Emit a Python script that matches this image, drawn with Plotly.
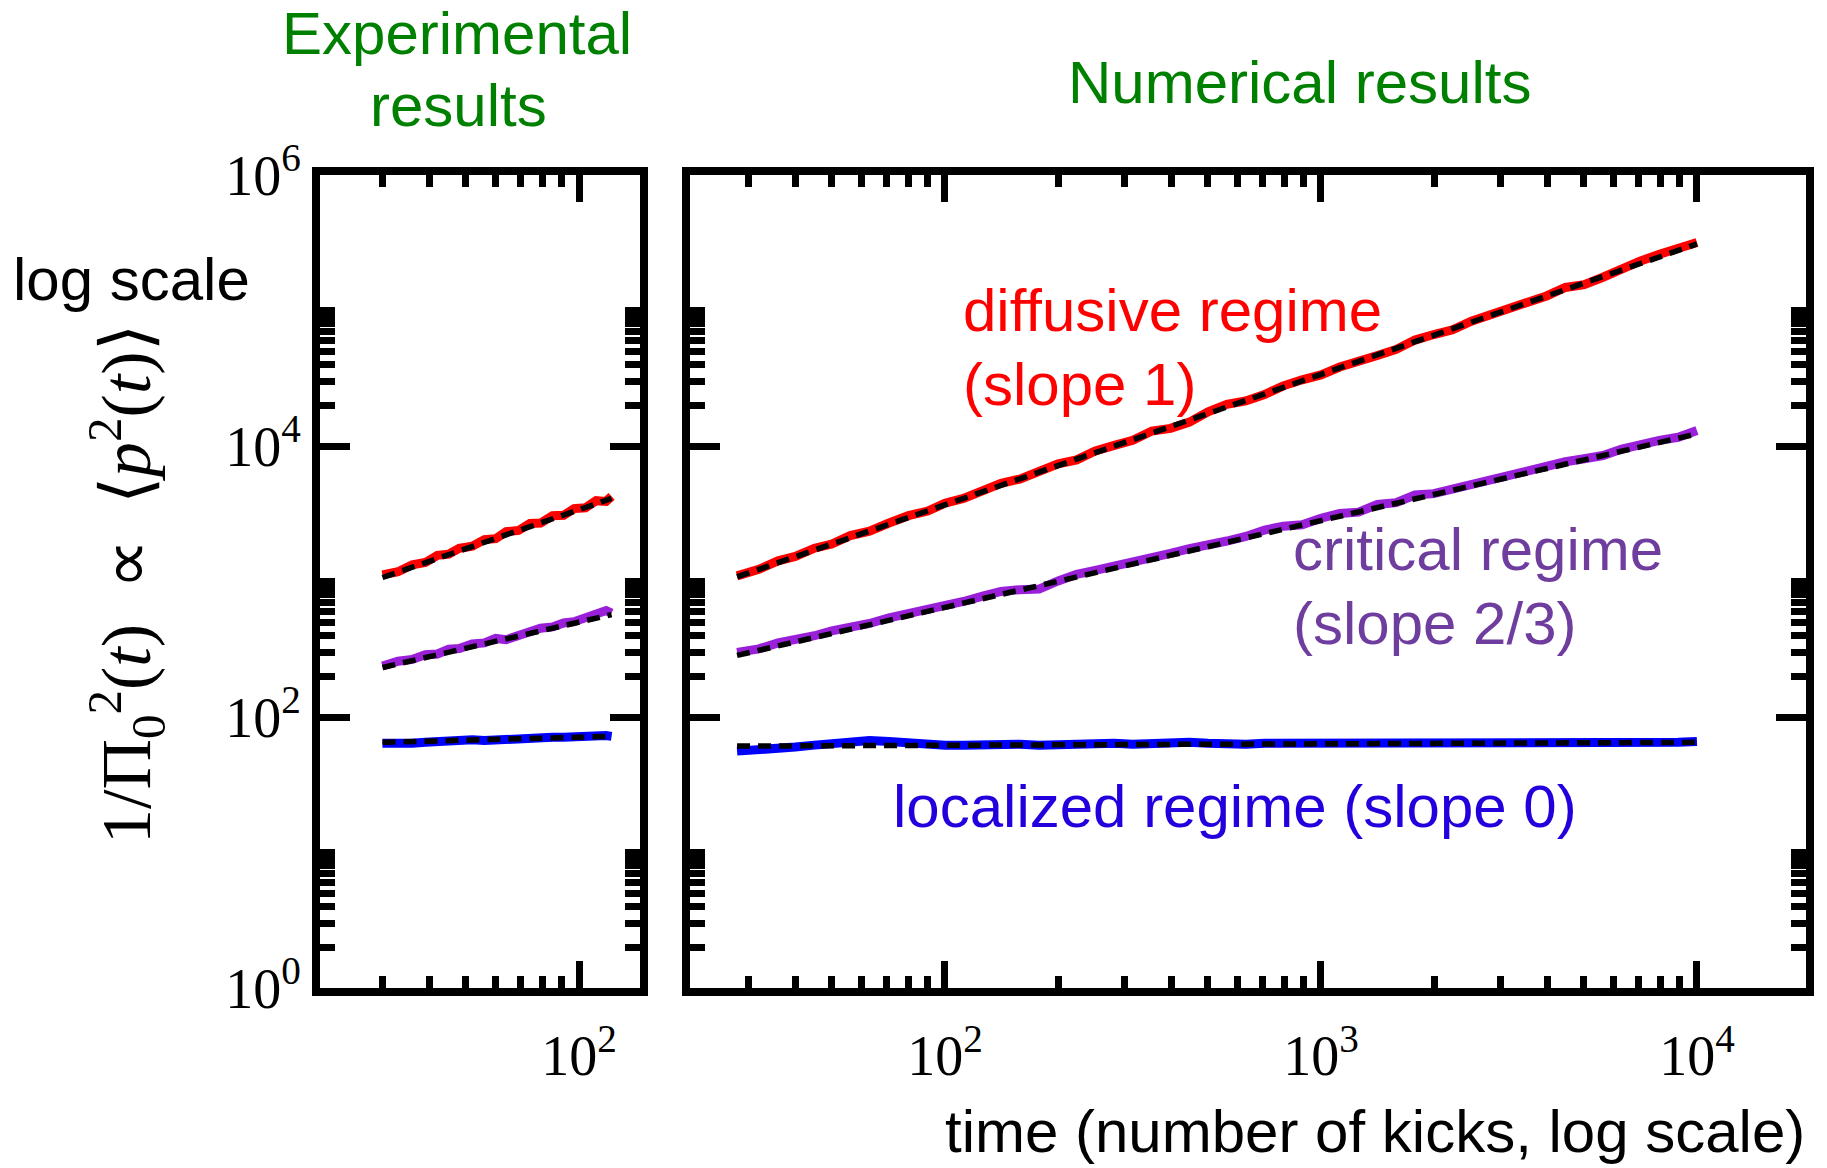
import plotly.graph_objects as go

# ---------------- data ----------------
# Experimental (left panel)
t_exp = [30, 33, 36, 39, 42, 45, 48, 52, 56, 60, 64, 69, 74, 79, 85, 91, 97, 104, 111, 118, 122]
exp_diffusive = [1120, 1180, 1330, 1380, 1560, 1590, 1760, 1820, 2040, 2070, 2330, 2380, 2680, 2700,
                 3060, 3080, 3450, 3500, 3950, 3900, 4250]
exp_critical = [238, 258, 266, 288, 292, 316, 320, 346, 352, 380, 372, 398, 432, 452, 462, 494, 505,
                540, 560, 610, 585]
exp_localized = [64, 63, 64, 65, 66, 66, 67, 68, 67, 68, 69, 70, 69, 70, 71, 71, 72, 72, 73, 73, 72]

# Numerical (right panel)
t_num = [28, 32, 36, 40, 45, 50, 56, 63, 71, 80, 90, 100, 112, 126, 141, 158, 178, 200, 224, 251,
         282, 316, 355, 398, 447, 501, 562, 631, 708, 794, 891, 1000, 1122, 1259, 1413, 1585, 1778,
         1995, 2239, 2512, 2818, 3162, 3548, 3981, 4467, 5012, 5623, 6310, 7079, 7943, 8913, 10000]
num_diffusive = [1100, 1230, 1420, 1530, 1760, 1890, 2180, 2350, 2700, 3060, 3310, 3780, 4100, 4700,
                 5300, 5700, 6500, 7400, 7900, 9200, 10100, 11000, 12900, 13500, 15000, 17900, 20300,
                 21500, 24000, 27800, 30800, 33500, 38300, 42900, 46500, 51600, 60500, 66500, 72000,
                 83500, 93000, 102000, 118000, 128000, 148000, 155000, 176000, 206000, 232000,
                 260000, 284000, 318000]
num_critical = [300, 318, 352, 368, 398, 432, 458, 490, 540, 575, 618, 672, 712, 780, 845, 870, 880,
                1010, 1130, 1210, 1290, 1400, 1510, 1610, 1750, 1900, 1990, 2150, 2400, 2560, 2620,
                2930, 3180, 3250, 3700, 3820, 4350, 4450, 4800, 5350, 5750, 6000, 6700, 7000, 7650,
                8050, 8500, 9500, 10300, 11000, 11600, 13000]
num_localized = [56, 57, 58, 60, 62, 64, 66, 67, 66, 64, 63, 62, 62, 63, 64, 63, 62, 63, 64, 65, 64,
                 63, 64, 66, 65, 64, 63, 63, 64, 64, 65, 64, 63, 63, 64, 64, 65, 65, 65, 65, 64, 63,
                 64, 64, 65, 64, 63, 64, 65, 65, 65, 66]

# Power-law fits (end points)
fit_exp_t = [30, 122]
fit_exp_diffusive = [1070, 4100]
fit_exp_critical = [232, 570]
fit_exp_localized = [65, 72]
fit_num_t = [28, 10000]
fit_num_diffusive = [1080, 310000]
fit_num_critical = [285, 12300]
fit_num_localized = [61, 65]

# ticks
y_major = [1, 100, 10000, 1000000]
y_major_text = ["10<sup>0</sup>", "10<sup>2</sup>", "10<sup>4</sup>", "10<sup>6</sup>"]
y_minor = [2, 3, 4, 5, 6, 7, 8, 9, 10, 200, 300, 400, 500, 600, 700, 800, 900, 1000,
           20000, 30000, 40000, 50000, 60000, 70000, 80000, 90000, 100000]
x_exp_major = [100]
x_exp_major_text = ["10<sup>2</sup>"]
x_exp_minor = [30, 40, 50, 60, 70, 80, 90]
x_num_major = [100, 1000, 10000]
x_num_major_text = ["10<sup>2</sup>", "10<sup>3</sup>", "10<sup>4</sup>"]
x_num_minor = [30, 40, 50, 60, 70, 80, 90, 200, 300, 400, 500, 600, 700, 800, 900,
               2000, 3000, 4000, 5000, 6000, 7000, 8000, 9000]

RED = "#ff0000"
PURPLE = "#9a1fd8"
BLUE = "#0000ff"
GREEN = "#008000"

W, H = 1827, 1168

fig = go.Figure()

def add_panel(xref, yref, t, d, c, l, ft, fd, fc, fl):
    for vals, col in ((d, RED), (c, PURPLE), (l, BLUE)):
        fig.add_trace(go.Scatter(x=t, y=vals, mode="lines", xaxis=xref, yaxis=yref,
                                 line=dict(color=col, width=9), hoverinfo="skip"))
    for vals in (fd, fc, fl):
        fig.add_trace(go.Scatter(x=ft, y=vals, mode="lines", xaxis=xref, yaxis=yref,
                                 line=dict(color="black", width=5.5, dash="13px,8px"),
                                 hoverinfo="skip"))

add_panel("x", "y", t_exp, exp_diffusive, exp_critical, exp_localized,
          fit_exp_t, fit_exp_diffusive, fit_exp_critical, fit_exp_localized)
add_panel("x2", "y2", t_num, num_diffusive, num_critical, num_localized,
          fit_num_t, fit_num_diffusive, fit_num_critical, fit_num_localized)

tickfont = dict(family="Liberation Serif", size=56, color="black")
common = dict(type="log", showline=True, linecolor="black", linewidth=8, mirror="ticks",
              ticks="inside", tickcolor="black", tickwidth=7, showgrid=False, zeroline=False,
              tickfont=tickfont, automargin=False)

def px_x(p):
    return p / W

def px_y(p):
    return 1 - p / H

fig.update_layout(
    width=W, height=H, margin=dict(l=0, r=0, t=0, b=0, pad=0, autoexpand=False),
    paper_bgcolor="white", plot_bgcolor="white", showlegend=False,
    xaxis=dict(common, domain=[px_x(320), px_x(640)], range=[1.311, 2.162], anchor="y",
               tickmode="array", tickvals=x_exp_major, ticktext=x_exp_major_text, ticklen=27,
               ticklabelstandoff=12,
               minor=dict(tickmode="array", tickvals=x_exp_minor, ticklen=12, tickwidth=7,
                          tickcolor="black", ticks="inside")),
    xaxis2=dict(common, domain=[px_x(690), px_x(1806)], range=[1.322, 4.290], anchor="y2",
                tickmode="array", tickvals=x_num_major, ticktext=x_num_major_text, ticklen=27,
                ticklabelstandoff=12,
                minor=dict(tickmode="array", tickvals=x_num_minor, ticklen=12, tickwidth=7,
                           tickcolor="black", ticks="inside")),
    yaxis=dict(common, domain=[px_y(988), px_y(175)], range=[0, 6], anchor="x",
               tickmode="array", tickvals=y_major, ticktext=y_major_text, ticklen=30,
               minor=dict(tickmode="array", tickvals=y_minor, ticklen=15, tickwidth=7,
                          tickcolor="black", ticks="inside")),
    yaxis2=dict(common, domain=[px_y(988), px_y(175)], range=[0, 6], anchor="x2",
                tickmode="array", tickvals=y_major, ticktext=y_major_text, ticklen=30,
                showticklabels=False,
                minor=dict(tickmode="array", tickvals=y_minor, ticklen=15, tickwidth=7,
                           tickcolor="black", ticks="inside")),
)

SANS = "Liberation Sans"
FS = 60

def label(text, x, y, color, anchor="left", size=FS, font=SANS, angle=0):
    fig.add_annotation(text=text, x=px_x(x), y=px_y(y), xref="paper", yref="paper",
                       xanchor=anchor, yanchor="middle", showarrow=False, textangle=angle,
                       font=dict(family=font, size=size, color=color))

label("Experimental", 457, 34, GREEN, anchor="center")
label("results", 458, 106, GREEN, anchor="center")
label("Numerical results", 1299, 83, GREEN, anchor="center")
label("log scale", 11, 279, "black")
label("time (number of kicks, log scale)", 943, 1131, "black")
label("diffusive regime", 961, 310, RED)
label("(slope 1)", 961, 384, RED)
label("critical regime", 1291, 550, "#6f3d9e")
label("(slope 2/3)", 1291, 623, "#6f3d9e")
label("localized regime (slope 0)", 891, 806, "#2200dd")
label("1/Π<sub>0</sub><sup>2</sup>(<i>t</i>)  ∝  ⟨<i>p</i><sup>2</sup>(<i>t</i>)⟩", 126, 584,
      "black", anchor="center", size=70, font="Liberation Serif", angle=-90)

fig.write_html("out.html")
